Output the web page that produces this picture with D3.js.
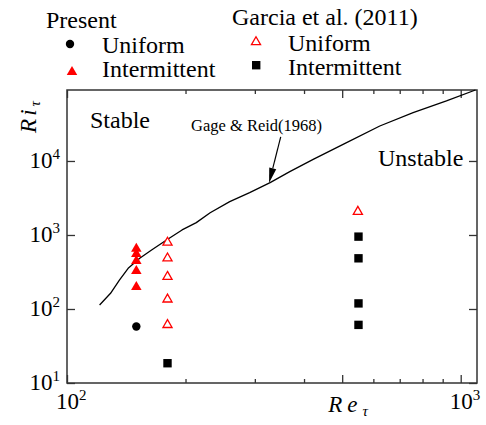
<!DOCTYPE html>
<html>
<head>
<meta charset="utf-8">
<script src="https://cdn.jsdelivr.net/npm/d3@7"></script>
<style>
  html, body { margin: 0; padding: 0; background: #fff; }
  svg { display: block; font-family: "Liberation Serif", "Times New Roman", serif; }
</style>
</head>
<body>
<svg id="chart" width="486" height="425"></svg>
<script>
// ---- data ----
const gageRe = [121, 129, 136, 143, 153, 164, 179, 196, 213, 231, 259, 291, 328, 368, 422, 513, 623, 757, 920, 1090];
const gageRi = [113, 163, 247, 355, 484, 627, 855, 1170, 1470, 2000, 2820, 3730, 5090, 7170, 10500, 17700, 29700, 45000, 64700, 91000];

const presentUniformRe = [150];
const presentUniformRi = [58];
const presentInterRe = [150, 150, 150, 150, 150];
const presentInterRi = [650, 553, 445, 326, 198];

const garciaUniformRe = [180, 180, 180, 180, 180, 548];
const garciaUniformRi = [790, 484, 273, 135, 61, 2065];
const garciaInterRe = [180, 550, 550, 550, 550];
const garciaInterRi = [18.5, 950, 484, 119, 61];

const xMajorTicks = [100, 500, 1000];
const xMinorTicks = [200, 300, 400, 600, 700, 800, 900];
const yTicks = [10, 100, 1000, 10000];
const xLabelTicks = [{v: 100, e: "2"}, {v: 1000, e: "3"}];
const yLabelTicks = [{v: 10, e: "1"}, {v: 100, e: "2"}, {v: 1000, e: "3"}, {v: 10000, e: "4"}];

// ---- layout ----
const L = 67, R = 477, T = 90, B = 383;
const svg = d3.select("#chart");
const x = d3.scaleLog().domain([100, 1100]).range([L, R]);
const y = d3.scaleLog().domain([10, 91000]).range([B, T]);
const frameColor = "#333";

// axes with inward ticks
function styleAxis(g) {
  g.select(".domain").remove();
  g.selectAll("line").attr("stroke", frameColor).attr("stroke-width", 1.3);
  g.selectAll("text").remove();
}
svg.append("g").attr("transform", `translate(0,${B})`)
  .call(d3.axisBottom(x).tickValues(xMajorTicks).tickSize(-8)).call(styleAxis);
svg.append("g").attr("transform", `translate(0,${B})`)
  .call(d3.axisBottom(x).tickValues(xMinorTicks).tickSize(-4)).call(styleAxis);
svg.append("g").attr("transform", `translate(0,${T})`)
  .call(d3.axisTop(x).tickValues(xMajorTicks).tickSize(-8)).call(styleAxis);
svg.append("g").attr("transform", `translate(0,${T})`)
  .call(d3.axisTop(x).tickValues(xMinorTicks).tickSize(-4)).call(styleAxis);
svg.append("g").attr("transform", `translate(${L},0)`)
  .call(d3.axisLeft(y).tickValues(yTicks).tickSize(-8)).call(styleAxis);
svg.append("g").attr("transform", `translate(${R},0)`)
  .call(d3.axisRight(y).tickValues(yTicks).tickSize(-8)).call(styleAxis);

// frame
svg.append("rect").attr("x", L).attr("y", T).attr("width", R - L).attr("height", B - T)
  .attr("fill", "none").attr("stroke", frameColor).attr("stroke-width", 1.5);

// tick labels
xLabelTicks.forEach(d => {
  const t = svg.append("text").attr("x", x(d.v) - 11).attr("y", B + 26)
    .attr("font-size", 23).attr("fill", "#000");
  t.append("tspan").text("10");
  t.append("tspan").attr("dy", -9).attr("font-size", 15).text(d.e);
});
yLabelTicks.forEach(d => {
  const t = svg.append("text").attr("x", L - 7).attr("y", y(d.v) + 7)
    .attr("font-size", 23).attr("fill", "#000").attr("text-anchor", "end");
  t.append("tspan").text("10");
  t.append("tspan").attr("dy", -9).attr("font-size", 15).text(d.e);
});

// axis titles
const yt = svg.append("text").attr("transform", "translate(36,117) rotate(-90)")
  .attr("text-anchor", "middle").attr("font-size", 23);
yt.append("tspan").attr("font-style", "italic").attr("letter-spacing", 3).text("Ri");
yt.append("tspan").attr("font-style", "italic").attr("font-size", 15).attr("dy", 4).text("τ");

const xt = svg.append("text").attr("x", 348).attr("y", 412)
  .attr("text-anchor", "middle").attr("font-size", 23);
xt.append("tspan").attr("font-style", "italic").attr("letter-spacing", 5).text("Re");
xt.append("tspan").attr("font-style", "italic").attr("font-size", 15).attr("dy", 4).text("τ");

// Gage & Reid curve
const line = d3.line().x((d, i) => x(gageRe[i])).y((d, i) => y(gageRi[i])).curve(d3.curveLinear);
svg.append("path").datum(gageRe).attr("d", line)
  .attr("fill", "none").attr("stroke", "#000").attr("stroke-width", 1.3).attr("stroke-linejoin", "round");

// markers
const red = "#ff0000";
const tri = d3.symbol().type(d3.symbolTriangle);
svg.append("g").selectAll("path").data(presentInterRe).join("path")
  .attr("transform", (d, i) => `translate(${x(d)},${y(presentInterRi[i])})`)
  .attr("d", tri.size(48)()).attr("fill", red);
svg.append("g").selectAll("path").data(garciaUniformRe).join("path")
  .attr("transform", (d, i) => `translate(${x(d)},${y(garciaUniformRi[i])})`)
  .attr("d", tri.size(36)()).attr("fill", "#fff").attr("stroke", red).attr("stroke-width", 1.3);
svg.append("g").selectAll("circle").data(presentUniformRe).join("circle")
  .attr("cx", d => x(d)).attr("cy", (d, i) => y(presentUniformRi[i])).attr("r", 4.2).attr("fill", "#000");
svg.append("g").selectAll("rect").data(garciaInterRe).join("rect")
  .attr("x", d => x(d) - 4.2).attr("y", (d, i) => y(garciaInterRi[i]) - 4.2)
  .attr("width", 8.4).attr("height", 8.4).attr("fill", "#000");

// region labels
svg.append("text").attr("x", 90).attr("y", 128).attr("font-size", 24).text("Stable");
svg.append("text").attr("x", 378).attr("y", 166).attr("font-size", 24).text("Unstable");
svg.append("text").attr("x", 191).attr("y", 131).attr("font-size", 16.5).text("Gage & Reid(1968)");

// arrow
const ax0 = x(349), ay0 = y(21100), ax1 = x(326), ay1 = y(5050);
const ang = Math.atan2(ay1 - ay0, ax1 - ax0);
const hl = 15, hw = 3.6;
const bx = ax1 - hl * Math.cos(ang), by = ay1 - hl * Math.sin(ang);
svg.append("line").attr("x1", ax0).attr("y1", ay0).attr("x2", bx).attr("y2", by)
  .attr("stroke", "#000").attr("stroke-width", 1.2);
svg.append("path")
  .attr("d", `M${ax1},${ay1}L${bx - hw * Math.sin(ang)},${by + hw * Math.cos(ang)}L${bx + hw * Math.sin(ang)},${by - hw * Math.cos(ang)}Z`)
  .attr("fill", "#000");

// legend
const lg = svg.append("g").attr("font-size", 24);
lg.append("text").attr("x", 46).attr("y", 28).text("Present");
lg.append("circle").attr("cx", 70).attr("cy", 44).attr("r", 4.2).attr("fill", "#000");
lg.append("text").attr("x", 102).attr("y", 53).text("Uniform");
lg.append("path").attr("transform", "translate(72,72)").attr("d", tri.size(48)()).attr("fill", red);
lg.append("text").attr("x", 102).attr("y", 77).text("Intermittent");

lg.append("text").attr("x", 232).attr("y", 25).text("Garcia et al. (2011)");
lg.append("path").attr("transform", "translate(256,42)").attr("d", tri.size(36)())
  .attr("fill", "#fff").attr("stroke", red).attr("stroke-width", 1.3);
lg.append("text").attr("x", 288).attr("y", 51).text("Uniform");
lg.append("rect").attr("x", 252).attr("y", 61).attr("width", 8.4).attr("height", 8.4).attr("fill", "#000");
lg.append("text").attr("x", 288).attr("y", 75).text("Intermittent");
</script>
</body>
</html>
